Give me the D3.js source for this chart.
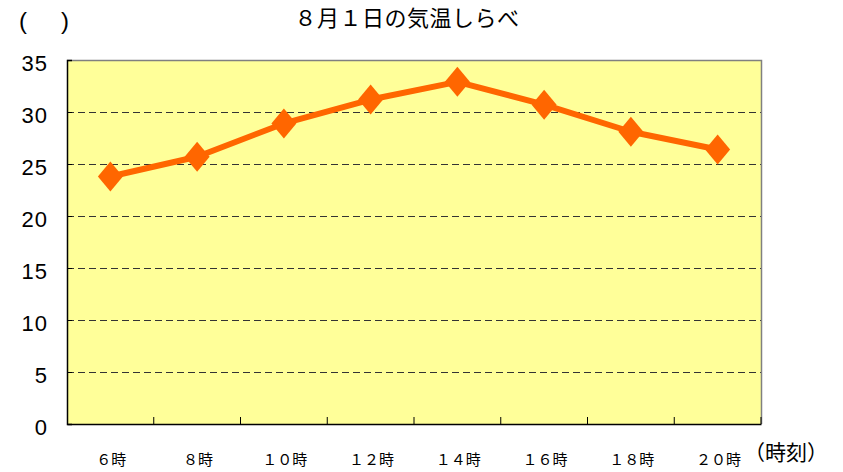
<!DOCTYPE html>
<html>
<head>
<meta charset="utf-8">
<script src="https://cdn.jsdelivr.net/npm/d3@7"></script>
<style>
  body { margin: 0; background: #ffffff; }
  svg { display: block; }
</style>
</head>
<body>
<svg id="chart" width="843" height="472"></svg>
<script>
// chart data
const hours = ["６時", "８時", "１０時", "１２時", "１４時", "１６時", "１８時", "２０時"];
const temps = [23.8, 25.7, 28.9, 31.2, 32.9, 30.7, 28.1, 26.4];
const yTicks = [0, 5, 10, 15, 20, 25, 30, 35];

const plotLeft = 67;
const plotRight = 761;
const plotTop = 60;
const plotBottom = 424;

const svg = d3.select("#chart");

const xScale = d3.scaleBand()
                .domain(hours)
                .range([plotLeft, plotRight]);

const yScale = d3.scaleLinear()
                .domain([0, 35])
                .range([plotBottom, plotTop]);

// plot background
svg.append("rect")
    .attr("x", plotLeft)
    .attr("y", plotTop)
    .attr("width", plotRight - plotLeft)
    .attr("height", plotBottom - plotTop)
    .attr("fill", "#ffff99");

// dashed gridlines
svg.append("g")
    .selectAll("line")
    .data(yTicks.filter(d => d > 0 && d < 35))
    .join("line")
    .attr("x1", plotLeft)
    .attr("x2", plotRight)
    .attr("y1", d => yScale(d) + 0.5)
    .attr("y2", d => yScale(d) + 0.5)
    .attr("stroke", "#333333")
    .attr("stroke-width", 1)
    .attr("stroke-dasharray", "7,4");

// top + right border (grey)
svg.append("path")
    .attr("d", "M" + plotLeft + "," + (plotTop + 0.5) + "H" + (plotRight + 0.5) + "V" + plotBottom)
    .attr("fill", "none")
    .attr("stroke", "#808080")
    .attr("stroke-width", 1.5);

// axes
const leftAxis = d3.axisRight(yScale).tickValues(yTicks).tickSize(5).tickFormat("");
svg.append("g")
    .attr("transform", "translate(" + plotLeft + ",0)")
    .call(leftAxis)
    .call(g => g.select(".domain").attr("stroke", "#000").attr("stroke-width", 1.5))
    .call(g => g.selectAll(".tick line").attr("stroke", "#000"));

const bottomAxis = d3.axisTop(xScale).tickSize(7).tickSizeOuter(0).tickFormat("");
svg.append("g")
    .attr("class", "xaxis")
    .attr("transform", "translate(0," + plotBottom + ")")
    .call(bottomAxis)
    .call(g => g.select(".domain").attr("stroke", "#000").attr("stroke-width", 1.5))
    .call(g => g.selectAll(".tick").attr("transform", d => "translate(" + (xScale(d) + xScale.bandwidth()) + ",0)"))
    .call(g => g.selectAll(".tick line").attr("stroke", "#000"));

// y labels
svg.append("g")
    .selectAll("text")
    .data(yTicks)
    .join("text")
    .attr("x", 48)
    .attr("y", d => yScale(d) + 11)
    .attr("text-anchor", "end")
    .attr("font-family", "'Liberation Sans', Arial, sans-serif")
    .attr("font-size", 22)
    .attr("letter-spacing", 1)
    .attr("fill", "#000")
    .text(d => d);

// x labels
svg.append("g")
    .selectAll("text")
    .data(hours)
    .join("text")
    .attr("x", d => xScale(d) + xScale.bandwidth() / 2 + 1)
    .attr("y", 465)
    .attr("text-anchor", "middle")
    .attr("font-family", "'Noto Sans CJK JP', sans-serif")
    .attr("font-size", 15)
    .attr("fill", "#000")
    .text(d => d);

// line
const line = d3.line()
                .x((d, i) => xScale(hours[i]) + xScale.bandwidth() / 2)
                .y(d => yScale(d));

svg.append("path")
    .datum(temps)
    .attr("d", line)
    .attr("fill", "none")
    .attr("stroke", "#ff6600")
    .attr("stroke-width", 6)
    .attr("stroke-linejoin", "round");

// diamond markers
svg.append("g")
    .selectAll("path")
    .data(temps)
    .join("path")
    .attr("transform", (d, i) => "translate(" + (xScale(hours[i]) + xScale.bandwidth() / 2) + "," + yScale(d) + ")")
    .attr("d", "M0,-15L12.5,0L0,15L-12.5,0Z")
    .attr("fill", "#ff6600");

// title and captions
svg.append("text")
    .attr("x", 407)
    .attr("y", 26)
    .attr("text-anchor", "middle")
    .attr("font-family", "'Noto Sans CJK JP', sans-serif")
    .attr("font-size", 22)
    .attr("letter-spacing", 0.5)
    .attr("fill", "#000")
    .text("８月１日の気温しらべ");

svg.append("text")
    .attr("x", 19)
    .attr("y", 29)
    .attr("font-family", "'Liberation Sans', Arial, sans-serif")
    .attr("font-size", 24)
    .attr("fill", "#000")
    .text("(");

svg.append("text")
    .attr("x", 61)
    .attr("y", 29)
    .attr("font-family", "'Liberation Sans', Arial, sans-serif")
    .attr("font-size", 24)
    .attr("fill", "#000")
    .text(")");

svg.append("text")
    .attr("x", 744)
    .attr("y", 460)
    .attr("font-family", "'Noto Sans CJK JP', sans-serif")
    .attr("font-size", 21)
    .attr("fill", "#000")
    .text("（時刻）");
</script>
</body>
</html>
